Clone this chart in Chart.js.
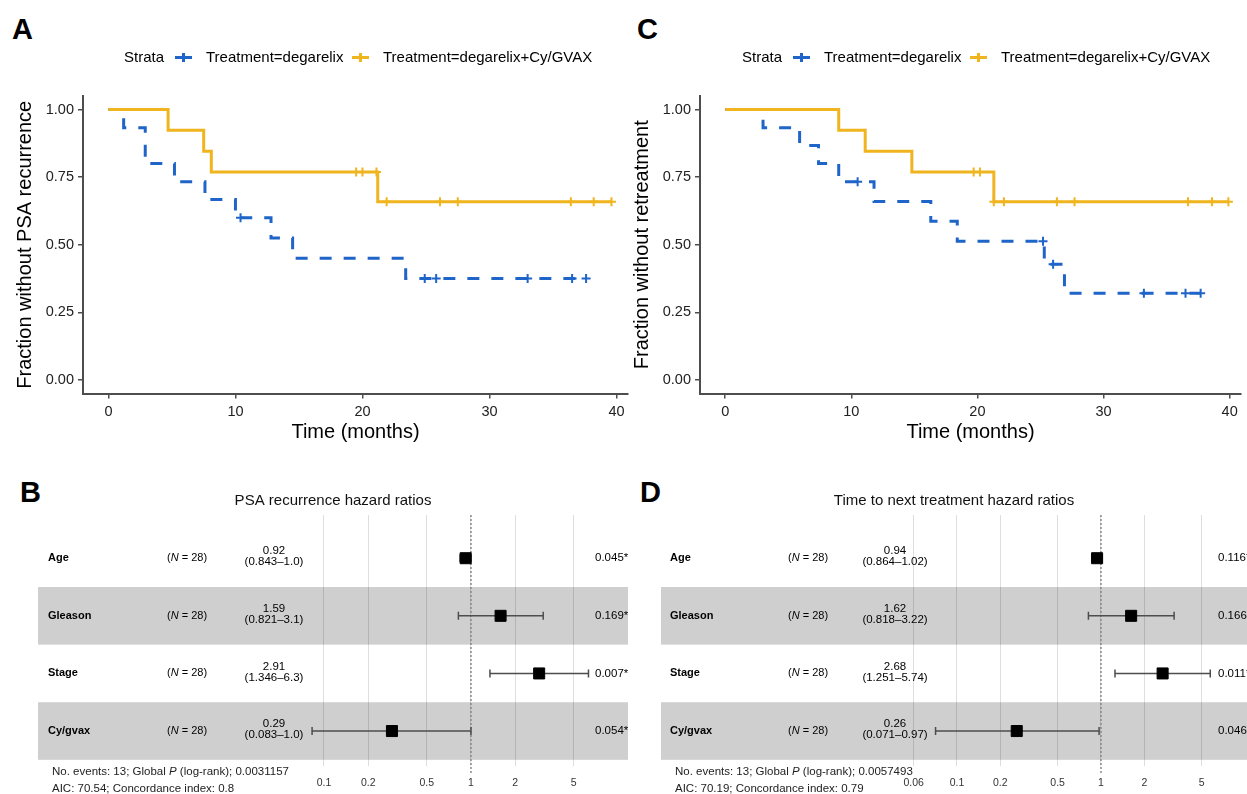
<!DOCTYPE html>
<html>
<head>
<meta charset="utf-8">
<title>Degarelix +/- Cy/GVAX</title>
<script src="https://cdn.jsdelivr.net/npm/chart.js@4.4.0/dist/chart.umd.min.js"></script>
<style>
  body { margin: 0; background: #fff; font-family: "Liberation Sans", Arial, Helvetica, sans-serif; }
  #fig { position: relative; width: 1247px; height: 794px; overflow: hidden; background: #fff; }
  canvas { position: absolute; }
  .tag { position: absolute; font-weight: bold; font-size: 29px; line-height: 29px; color: #000; }
  .leg { position: absolute; font-size: 15px; line-height: 16px; white-space: nowrap; color: #000; }
  .sym { position: absolute; width: 17px; height: 3px; }
  .sym i { position: absolute; left: 7px; top: -3px; width: 3px; height: 9px; background: inherit; }
</style>
</head>
<body>
<div id="fig">
  <div class="tag" style="left:12px;top:15px">A</div>
  <div class="tag" style="left:637px;top:15px">C</div>
  <div class="tag" style="left:20px;top:478px">B</div>
  <div class="tag" style="left:640px;top:478px">D</div>
  <canvas id="kmA" width="640" height="450" style="left:0;top:0"></canvas>
  <canvas id="kmC" width="630" height="450" style="left:617px;top:0"></canvas>
  <canvas id="forestB" width="640" height="324" style="left:0;top:470px"></canvas>
  <canvas id="forestD" width="607" height="324" style="left:640px;top:470px"></canvas>
</div>
<script>
// ---- data ------------------------------------------------------------------
const seriesNames = ['Treatment=degarelix', 'Treatment=degarelix+Cy/GVAX'];
const seriesColors = ['#1F64C8', '#F0B41E'];
const kmXTicks = [0, 10, 20, 30, 40];
const kmYTicks = [0, 0.25, 0.5, 0.75, 1];

// A: PSA recurrence (step times in months, survival after each step)
const psaDegTime  = [0, 1.2, 2.9, 5.2, 7.6, 10.0, 12.8, 14.5, 23.4, 37.6];
const psaDegSurv  = [1, 0.933, 0.800, 0.733, 0.667, 0.600, 0.525, 0.450, 0.375, 0.375];
const psaDegCens  = [10.4, 24.9, 25.8, 33.0, 36.5, 37.6];
const psaGvaxTime = [0, 4.7, 7.5, 8.1, 21.2, 39.6];
const psaGvaxSurv = [1, 0.923, 0.846, 0.769, 0.659, 0.659];
const psaGvaxCens = [19.5, 20.0, 21.1, 21.9, 26.1, 27.5, 36.4, 38.2, 39.6];

// C: retreatment
const rtDegTime  = [0, 3.0, 5.9, 7.4, 9.0, 11.8, 16.3, 18.4, 25.3, 26.9, 37.7];
const rtDegSurv  = [1, 0.933, 0.867, 0.800, 0.733, 0.660, 0.587, 0.513, 0.428, 0.321, 0.321];
const rtDegCens  = [10.5, 25.2, 26.0, 33.2, 36.5, 37.7];
const rtGvaxTime = [0, 9.0, 11.1, 14.8, 21.3, 39.9];
const rtGvaxSurv = [1, 0.923, 0.846, 0.769, 0.659, 0.659];
const rtGvaxCens = [19.7, 20.2, 21.3, 22.1, 26.3, 27.7, 36.7, 38.6, 39.9];

// B / D: Cox model hazard ratios
const coxVars = ['Age', 'Gleason', 'Stage', 'Cy/gvax'];
const coxN = [28, 28, 28, 28];

const psaHR   = [0.92, 1.59, 2.91, 0.29];
const psaLow  = [0.843, 0.821, 1.346, 0.083];
const psaHigh = [1.0, 3.1, 6.3, 1.0];
const psaCI   = ['(0.843–1.0)', '(0.821–3.1)', '(1.346–6.3)', '(0.083–1.0)'];
const psaP    = ['0.045*', '0.169*', '0.007*', '0.054*'];
const psaTicks = [0.1, 0.2, 0.5, 1, 2, 5];
const psaTickLabels = ['0.1', '0.2', '0.5', '1', '2', '5'];

const ttnHR   = [0.94, 1.62, 2.68, 0.26];
const ttnLow  = [0.864, 0.818, 1.251, 0.071];
const ttnHigh = [1.02, 3.22, 5.74, 0.97];
const ttnCI   = ['(0.864–1.02)', '(0.818–3.22)', '(1.251–5.74)', '(0.071–0.97)'];
const ttnP    = ['0.116*', '0.166*', '0.011*', '0.046*'];
const ttnTicks = [0.05, 0.1, 0.2, 0.5, 1, 2, 5];
const ttnTickLabels = ['0.06', '0.1', '0.2', '0.5', '1', '2', '5'];

const FONT = '"Liberation Sans", Arial, Helvetica, sans-serif';
Chart.defaults.font.family = FONT;
Chart.defaults.color = '#222';

// survival level of a step curve at time t (used to put censor ticks on the curve)
function survAt(times, surv, t) {
  let s = surv[0];
  times.forEach((tt, i) => { if (tt <= t) s = surv[i]; });
  return s;
}

// drop the extra side padding Chart.js reserves for edge tick labels
const noEdgePad = s => { s.paddingLeft = 0; s.paddingRight = 0; };

// ---- legends (html) ----------------------------------------------------------
function addLegend(dx) {
  const fig = document.getElementById('fig');
  const put = (html, left, cls, extra) => {
    const d = document.createElement('div');
    d.className = cls;
    d.innerHTML = html;
    d.style.left = (left + dx) + 'px';
    Object.assign(d.style, extra || {});
    fig.appendChild(d);
  };
  put('Strata', 124, 'leg', { top: '49px' });
  const symX = [175, 352], txtX = [206, 383];
  seriesNames.forEach((n, i) => {
    put('<i></i>', symX[i], 'sym', { top: '56px', background: seriesColors[i] });
    put(n, txtX[i], 'leg', { top: '49px' });
  });
}
addLegend(0);
addLegend(618);

// ---- Kaplan-Meier panels -------------------------------------------------------
function kmChart(id, yTitle, curves, rightPad) {
  const datasets = [];
  curves.forEach((c, i) => {
    datasets.push({
      data: c.time.map((t, k) => ({ x: t, y: c.surv[k] })),
      stepped: true,
      borderColor: seriesColors[i],
      borderWidth: 3,
      borderDash: i === 0 ? [12, 12] : [],
      pointRadius: 0,
      fill: false,
      order: 2 - i
    });
    datasets.push({
      data: c.cens.map(t => ({ x: t, y: survAt(c.time, c.surv, t) })),
      showLine: false,
      pointStyle: 'cross',
      pointRadius: 4.5,
      pointBorderWidth: 2,
      pointBorderColor: seriesColors[i],
      order: 2 - i
    });
  });

  return new Chart(document.getElementById(id), {
    type: 'line',
    data: { datasets },
    options: {
      responsive: false, animation: false, devicePixelRatio: 1,
      layout: { autoPadding: false, padding: { top: 95.98, right: rightPad, left: 0, bottom: 0 } },
      plugins: { legend: { display: false }, tooltip: { enabled: false } },
      scales: {
        x: {
          type: 'linear', min: -2, max: 40.9, bounds: 'data',
          afterBuildTicks: s => { s.ticks = kmXTicks.map(v => ({ value: v })); },
          ticks: { font: { size: 14.5 }, color: '#222', padding: 5, maxRotation: 0, autoSkip: false },
          grid: { drawOnChartArea: false, drawTicks: true, tickLength: 5, color: '#4d4d4d', lineWidth: 1.5 },
          border: { display: true, color: '#4d4d4d', width: 2 },
          title: { display: true, text: 'Time (months)', font: { size: 20 }, color: '#000', padding: { top: 0, bottom: 6 } },
          afterFit: s => { s.height = 56.5; noEdgePad(s); }
        },
        y: {
          type: 'linear', min: -0.05, max: 1.05, bounds: 'data',
          afterBuildTicks: s => { s.ticks = kmYTicks.map(v => ({ value: v })); },
          ticks: { font: { size: 14.5 }, color: '#222', padding: 4, callback: v => v.toFixed(2) },
          grid: { drawOnChartArea: false, drawTicks: true, tickLength: 5, color: '#4d4d4d', lineWidth: 1.5 },
          border: { display: true, color: '#4d4d4d', width: 2 },
          title: { display: true, text: yTitle, font: { size: 20 }, color: '#000', padding: { top: 13, bottom: 0 } },
          afterFit: s => { s.width = 83; }
        }
      }
    }
  });
}

kmChart('kmA', 'Fraction without PSA recurrence', [
  { time: psaDegTime, surv: psaDegSurv, cens: psaDegCens },
  { time: psaGvaxTime, surv: psaGvaxSurv, cens: psaGvaxCens }
], 12);

kmChart('kmC', 'Fraction without retreatment', [
  { time: rtDegTime, surv: rtDegSurv, cens: rtDegCens },
  { time: rtGvaxTime, surv: rtGvaxSurv, cens: rtGvaxCens }
], 6);

// ---- forest panels -------------------------------------------------------------
function drawRuns(ctx, x, y, runs, size) {
  runs.forEach(([txt, style]) => {
    ctx.font = `${style}${size}px ${FONT}`;
    ctx.fillText(txt, x, y);
    x += ctx.measureText(txt).width;
  });
}

function forestChart(id, f) {
  const textPlugin = {
    id: 'forestText',
    beforeDatasetsDraw(chart) {
      const { ctx, chartArea: a, scales: { y } } = chart;
      ctx.save();
      ctx.fillStyle = 'rgba(0,0,0,0.19)';
      f.vars.forEach((v, i) => {
        if ((i + 1) % 2 === 0) {
          const t = y.getPixelForValue(i + 0.5), b = y.getPixelForValue(i + 1.5);
          ctx.fillRect(a.left, t, a.right - a.left, b - t);
        }
      });
      ctx.restore();
    },
    afterDraw(chart) {
      const { ctx, scales: { y } } = chart;
      ctx.save();
      ctx.fillStyle = '#000';
      ctx.textBaseline = 'middle';
      f.vars.forEach((v, i) => {
        const py = y.getPixelForValue(i + 1);
        ctx.textAlign = 'left';
        ctx.font = `bold 11px ${FONT}`;
        ctx.fillText(v, f.col.label, py);
        drawRuns(ctx, f.col.n, py, [['(', ''], ['N', 'italic '], [` = ${coxN[i]})`, '']], 11);
        ctx.textAlign = 'center';
        ctx.font = `11.5px ${FONT}`;
        ctx.fillText(f.hr[i].toFixed(2), f.col.hr, py - 7);
        ctx.fillText(f.ci[i], f.col.hr, py + 4);
        ctx.textAlign = 'left';
        ctx.fillText(f.p[i], f.col.p, py);
      });
      ctx.fillStyle = '#222';
      drawRuns(ctx, f.col.foot, 302, [[`No. events: ${f.events}; Global `, ''], ['P', 'italic '], [` (log-rank); ${f.globalP}`, '']], 11.5);
      ctx.font = `11.5px ${FONT}`;
      ctx.fillText(`AIC: ${f.aic}; Concordance index: ${f.cindex}`, f.col.foot, 319);
      ctx.restore();
    }
  };

  const datasets = [
    { // reference line at HR = 1
      data: [{ x: 1, y: 0.25 }, { x: 1, y: 4.75 }],
      borderColor: '#8a8a8a', borderWidth: 1.5, borderDash: [2, 2],
      pointRadius: 0, clip: false, order: 3
    }
  ];
  f.low.forEach((lo, i) => {
    datasets.push({
      data: [{ x: lo, y: i + 1 }, { x: f.high[i], y: i + 1 }],
      borderColor: '#4d4d4d', borderWidth: 1.5,
      pointStyle: 'line', pointRotation: 90, pointRadius: 4,
      pointBorderWidth: 1.5, pointBorderColor: '#4d4d4d', order: 2
    });
  });
  datasets.push({
    data: f.hr.map((h, i) => ({ x: h, y: i + 1 })),
    showLine: false, pointStyle: 'rect', pointRadius: 7.8,
    pointBackgroundColor: '#000', pointBorderColor: '#000', pointBorderWidth: 1, order: 1
  });

  return new Chart(document.getElementById(id), {
    type: 'line',
    data: { datasets },
    plugins: [textPlugin],
    options: {
      responsive: false, animation: false, devicePixelRatio: 1,
      layout: { autoPadding: false, padding: { top: 0, right: f.padRight, left: f.padLeft, bottom: 0 } },
      plugins: {
        legend: { display: false }, tooltip: { enabled: false },
        title: { display: true, text: f.title, font: { size: 15, weight: 'normal' }, color: '#111', padding: { top: 22, bottom: 5 } }
      },
      scales: {
        x: {
          type: 'logarithmic', min: f.xMin, max: f.xMax, bounds: 'data',
          afterBuildTicks: s => { s.ticks = f.ticks.map(v => ({ value: v })); },
          ticks: { font: { size: 10.5 }, color: '#333', padding: 11, maxRotation: 0, autoSkip: false,
                   callback: (v, idx) => f.tickLabels[idx] },
          grid: { color: '#dedede', lineWidth: 1, drawTicks: false },
          border: { display: false },
          afterFit: s => { s.height = 28.4; noEdgePad(s); }
        },
        y: { type: 'linear', reverse: true, min: 0.25, max: 4.6, display: false }
      }
    }
  });
}

forestChart('forestB', {
  title: 'PSA recurrence hazard ratios',
  vars: coxVars, hr: psaHR, low: psaLow, high: psaHigh, ci: psaCI, p: psaP,
  ticks: psaTicks, tickLabels: psaTickLabels,
  events: 13, globalP: '0.0031157', aic: '70.54', cindex: '0.8',
  xMin: 0.001134, xMax: 11.7, padLeft: 38, padRight: 12,
  col: { label: 48, n: 167, hr: 274, p: 595, foot: 52 }
});

forestChart('forestD', {
  title: 'Time to next treatment hazard ratios',
  vars: coxVars, hr: ttnHR, low: ttnLow, high: ttnHigh, ci: ttnCI, p: ttnP,
  ticks: ttnTicks, tickLabels: ttnTickLabels,
  events: 13, globalP: '0.0057493', aic: '70.19', cindex: '0.79',
  xMin: 0.00088, xMax: 10.33, padLeft: 21, padRight: 0,
  col: { label: 30, n: 148, hr: 255, p: 578, foot: 35 }
});
</script>
</body>
</html>
